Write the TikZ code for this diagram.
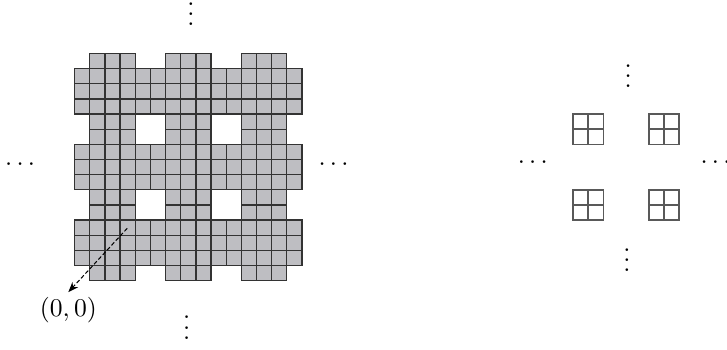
\documentclass[tikz,border=0pt]{standalone}
\usepackage{amsmath, amssymb}
\usepackage{tikz}
\usetikzlibrary{arrows.meta, positioning}
\usepackage{xcolor}
\definecolor{cellgray}{RGB}{190,190,194}

\begin{document}
\begin{tikzpicture}[
  x=0.208cm, y=0.208cm,
  cell/.style={draw=black!80, line width=0.5pt, fill=cellgray},
  opencell/.style={draw=black!65, line width=0.6pt, fill=white},
  dots/.style={anchor=base, inner sep=0pt},
  arrow/.style={-{Stealth[length=4pt, width=3pt]}, line width=0.4pt, dash pattern=on 1.6pt off 0.9pt}
]
\useasboundingbox (-4.93,-4.51) rectangle (43.06,18.53);

% 3x3 tiles: a band of 5x3 cells with stubs of 3 cells below and above
\foreach \i in {0,1,2} {
  \foreach \j in {0,1,2} {
    \foreach \x in {0,...,4} {
      \foreach \y in {1,2,3} {
        \draw[cell] (5*\i+\x, 5*\j+\y) rectangle ++(1,1);
      }
    }
    \foreach \x in {1,2,3} {
      \draw[cell] (5*\i+\x, 5*\j) rectangle ++(1,1);
      \draw[cell] (5*\i+\x, 5*\j+4) rectangle ++(1,1);
    }
  }
}

\node[dots] (ltop) at (7.68,16.83) {$\vdots$};
\node[dots] (lbot) at (7.39,-3.87) {$\vdots$};
\node[dots] (lleft) at (-3.46,7.3) {$\cdots$};
\node[dots] (lright) at (17.23,7.3) {$\cdots$};

% origin label
\coordinate (start) at (3.47,3.46);
\node[inner sep=2pt] (origin) at (-0.42,-1.97) {$(0,0)$};
\draw[arrow] (start) -- (origin.north);

% right: small 2x2 squares
\foreach \px in {32.9,37.9} {
  \foreach \py in {4,9} {
    \foreach \x in {0,1} {
      \foreach \y in {0,1} {
        \draw[opencell] (\px+\x, \py+\y) rectangle ++(1,1);
      }
    }
  }
}

\node[dots] (rtop) at (36.54,12.74) {$\vdots$};
\node[dots] (rbot) at (36.46,0.6) {$\vdots$};
\node[dots] (rleft) at (30.38,7.39) {$\cdots$};
\node[dots] (rright) at (42.44,7.39) {$\cdots$};
\end{tikzpicture}
\end{document}
